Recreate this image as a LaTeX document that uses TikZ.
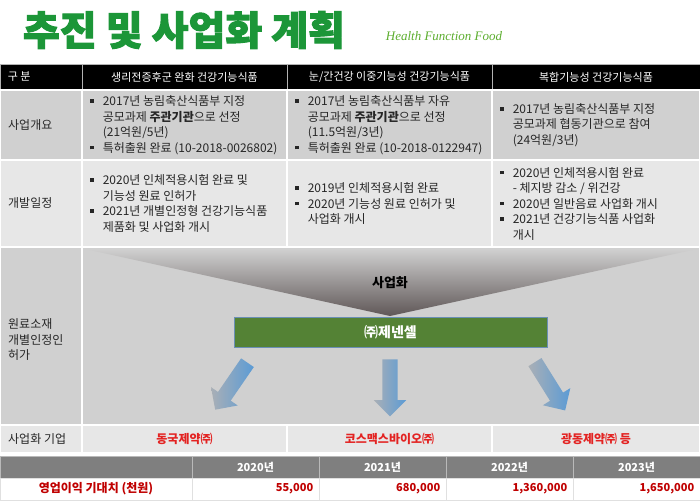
\documentclass[tikz,border=0pt]{standalone}
\usepackage{fontspec}
\setmainfont{Noto Sans CJK KR}
\newfontfamily\titlefont{Noto Sans CJK KR}[BoldFeatures={FakeBold=2.5}]
\newfontfamily\engfont{Liberation Serif}
\usetikzlibrary{positioning,shapes.arrows}
\definecolor{titlegreen}{HTML}{1C9638}
\definecolor{subgreen}{HTML}{5DAE2F}
\definecolor{rowdark}{HTML}{D0D0D0}
\definecolor{rowlight}{HTML}{E7E7E7}
\definecolor{bodytext}{HTML}{262626}
\definecolor{funneldark}{HTML}{5F5757}
\definecolor{boxgreen}{HTML}{548235}
\definecolor{boxedge}{HTML}{6A8FB5}
\definecolor{arrowgray}{HTML}{A9AFB6}
\definecolor{arrowblue}{HTML}{5B9BD5}
\definecolor{firmred}{HTML}{E32322}
\definecolor{valred}{HTML}{C00000}
\definecolor{yearhead}{HTML}{7F7F7F}
\newcommand{\sqb}{\raisebox{2.8pt}{\rule{3.6pt}{3.6pt}}\hspace{9pt}}
\newcommand{\indl}{\hspace*{12.6pt}}
\begin{document}
\begin{tikzpicture}[x=1pt, y=-1pt,
        cell/.style={draw=white, line width=2pt, inner sep=0pt, outer sep=0pt},
        head cell/.style={draw=gray!60, line width=0.8pt, fill=black, inner sep=0pt, minimum height=26, text=white, font=\fontsize{11}{13}\selectfont},
        year cell/.style={draw=gray!55, line width=0.8pt, fill=yearhead, inner sep=0pt, minimum height=22, text=white, font=\bfseries\fontsize{11}{13}\selectfont},
        value cell/.style={draw=black!12, line width=0.8pt, fill=white, inner sep=0pt, minimum height=22},
        head_t/.style={right=8pt, inner sep=0pt, text=white, font=\fontsize{11}{13}\selectfont},
        cell_t/.style={right=8pt, align=left, inner sep=0pt, text=bodytext, font=\fontsize{12}{15.5}\selectfont},
        firm_t/.style={text=firmred, font=\bfseries\fontsize{12}{14}\selectfont},
        value_t/.style={left=6pt, inner sep=0pt, text=valred, font=\bfseries\fontsize{11}{13}\selectfont},
        flow arrow/.style={single arrow, minimum height=57, minimum width=32, single arrow head extend=8.5pt, inner xsep=0pt, inner ysep=7.5pt, left color=arrowgray, right color=arrowblue, draw=none}
    ]
	\useasboundingbox (0,0) rectangle (700,502);
	\fill[white] (0,0) rectangle (700,502);
	\node[inner sep=0pt, text=titlegreen, font=\titlefont\bfseries\fontsize{40}{42}\selectfont] (title) at (184,30) {추진 및 사업화 계획};
	\node[text=subgreen, font=\engfont\itshape\fontsize{13}{15}\selectfont] (sub) at (444,36) {Health Function Food};
	\node[head cell, minimum width=82] (h_0) at (41,77) {};
	\node[head cell, minimum width=205] (h_1) at (184.5,77) {생리전증후군 완화 건강기능식품};
	\node[head cell, minimum width=205] (h_2) at (389.5,77) {눈/간건강 이중기능성 건강기능식품};
	\node[head cell, minimum width=208] (h_3) at (596,77) {복합기능성 건강기능식품};
	\node[head_t] (t_h0) at (h_0.west) {구 분};
	\node[cell, fill=rowdark, minimum width=82, minimum height=70] (p_0) at (41,125) {};
	\node[cell, fill=rowdark, minimum width=205, minimum height=70] (p_1) at (184.5,125) {};
	\node[cell, fill=rowdark, minimum width=205, minimum height=70] (p_2) at (389.5,125) {};
	\node[cell, fill=rowdark, minimum width=208, minimum height=70] (p_3) at (596,125) {};
	\node[cell, fill=rowlight, minimum width=82, minimum height=87] (d_0) at (41,203.5) {};
	\node[cell, fill=rowlight, minimum width=205, minimum height=87] (d_1) at (184.5,203.5) {};
	\node[cell, fill=rowlight, minimum width=205, minimum height=87] (d_2) at (389.5,203.5) {};
	\node[cell, fill=rowlight, minimum width=208, minimum height=87] (d_3) at (596,203.5) {};
	\node[cell, fill=rowdark, minimum width=82, minimum height=178] (m_0) at (41,336) {};
	\node[cell, fill=rowdark, minimum width=618, minimum height=178] (m_1) at (391,336) {};
	\node[cell, fill=rowlight, minimum width=82, minimum height=28] (c_0) at (41,439) {};
	\node[cell, fill=rowlight, minimum width=205, minimum height=28, firm_t] (c_1) at (184.5,439) {동국제약㈜};
	\node[cell, fill=rowlight, minimum width=205, minimum height=28, firm_t] (c_2) at (389.5,439) {코스맥스바이오㈜};
	\node[cell, fill=rowlight, minimum width=208, minimum height=28, firm_t] (c_3) at (596,439) {광동제약㈜ 등};
	\node[cell_t] (t_p0) at (p_0.west) {사업개요};
	\node[cell_t] (t_p1) at (p_1.west) {\sqb 2017년 농림축산식품부 지정\\\indl 공모과제 \textbf{주관기관}으로 선정\\\indl (21억원/5년)\\\sqb 특허출원 완료 (10-2018-0026802)};
	\node[cell_t] (t_p2) at (p_2.west) {\sqb 2017년 농림축산식품부 자유\\\indl 공모과제 \textbf{주관기관}으로 선정\\\indl (11.5억원/3년)\\\sqb 특허출원 완료 (10-2018-0122947)};
	\node[cell_t] (t_p3) at (p_3.west) {\sqb 2017년 농림축산식품부 지정\\\indl 공모과제 협동기관으로 참여\\\indl (24억원/3년)};
	\node[cell_t] (t_d0) at (d_0.west) {개발일정};
	\node[cell_t] (t_d1) at (d_1.west) {\sqb 2020년 인체적용시험 완료 및\\\indl 기능성 원료 인허가\\\sqb 2021년 개별인정형 건강기능식품\\\indl 제품화 및 사업화 개시};
	\node[cell_t] (t_d2) at (d_2.west) {\sqb 2019년 인체적용시험 완료\\\sqb 2020년 기능성 원료 인허가 및\\\indl 사업화 개시};
	\node[cell_t] (t_d3) at (d_3.west) {\sqb 2020년 인체적용시험 완료\\\indl - 체지방 감소 / 위건강\\\sqb 2020년 일반음료 사업화 개시\\\sqb 2021년 건강기능식품 사업화\\\indl 개시};
	\node[cell_t] (t_m0) at ([yshift=-4pt]m_0.west) {원료소재\\개별인정인\\허가};
	\node[cell_t] (t_c0) at (c_0.west) {사업화 기업};
	\shade[top color=rowdark, bottom color=funneldark] (85,249) -- (697,249) -- (390,316) -- cycle;
	\node[font=\bfseries\fontsize{13}{15}\selectfont] (biz) at (390,283) {사업화};
	\node[draw=boxedge, fill=boxgreen, line width=0.8pt, minimum width=313, minimum height=30, text=white, font=\bfseries\fontsize{14}{16}\selectfont] (genencell) at (390.5,332) {㈜제넨셀};
	\node[flow arrow, rotate=-124.5] (arr_0) at (233.5,383) {};
	\node[flow arrow, rotate=-90] (arr_1) at (390,384) {};
	\node[flow arrow, rotate=-58] (arr_2) at (548,383) {};
	\node[year cell, minimum width=192] (y_0) at (96,467) {};
	\node[year cell, minimum width=127] (y_1) at (255.5,467) {2020년};
	\node[year cell, minimum width=127] (y_2) at (382.5,467) {2021년};
	\node[year cell, minimum width=127] (y_3) at (509.5,467) {2022년};
	\node[year cell, minimum width=127] (y_4) at (636.5,467) {2023년};
	\node[value cell, minimum width=192, text=valred, font=\bfseries\fontsize{12}{14}\selectfont] (v_0) at (96,489) {영업이익 기대치 (천원)};
	\node[value cell, minimum width=127] (v_1) at (255.5,489) {};
	\node[value cell, minimum width=127] (v_2) at (382.5,489) {};
	\node[value cell, minimum width=127] (v_3) at (509.5,489) {};
	\node[value cell, minimum width=127] (v_4) at (636.5,489) {};
	\node[value_t] (t_v1) at (v_1.east) {55,000};
	\node[value_t] (t_v2) at (v_2.east) {680,000};
	\node[value_t] (t_v3) at (v_3.east) {1,360,000};
	\node[value_t] (t_v4) at (v_4.east) {1,650,000};
\end{tikzpicture}
\end{document}
